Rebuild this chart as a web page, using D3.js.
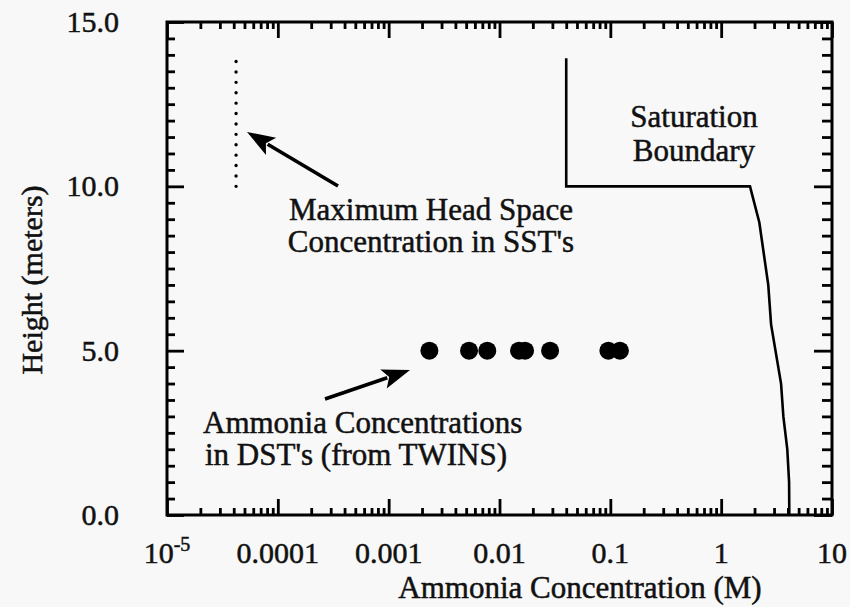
<!DOCTYPE html>
<html>
<head>
<meta charset="utf-8">
<script src="https://cdn.jsdelivr.net/npm/d3@7"></script>
<style>
  html, body { margin: 0; padding: 0; background: #f8f8f8; }
  svg { display: block; }
  text { font-family: "Liberation Serif", "Times New Roman", serif; fill: #111; stroke: #111; stroke-width: 0.5px; }
</style>
</head>
<body>
<svg id="chart" width="850" height="607"></svg>
<script>
// Ammonia concentrations measured in double-shell tanks (TWINS), all at 5 m
const dstConc = [0.00233, 0.00531, 0.00776, 0.0150, 0.0170, 0.0286, 0.096, 0.122];
const dstHeight = [5, 5, 5, 5, 5, 5, 5, 5];

// Maximum head space concentration in single-shell tanks
const headSpaceConc = [4.2e-5, 4.2e-5];
const headSpaceHeight = [10, 13.8];

// Saturation boundary
const satConc = [0.04, 0.04, 1.82, 2.21, 2.66, 2.82, 3.47, 3.64, 3.95, 4.10, 4.12];
const satHeight = [13.9, 10, 10, 8.9, 7.0, 5.8, 4.0, 3.0, 2.0, 1.0, 0];

// Axis ticks and labels
const xMajor = [1e-5, 1e-4, 1e-3, 1e-2, 1e-1, 1, 10];
const xLabels = ["10^-5", "0.0001", "0.001", "0.01", "0.1", "1", "10"];
const yMajor = [0, 5, 10, 15];
const yLabels = ["0.0", "5.0", "10.0", "15.0"];

const plot = { left: 167, right: 832, top: 22, bottom: 515 };

const svg = d3.select("#chart");
const x = d3.scaleLog().domain([1e-5, 10]).range([plot.left, plot.right]);
const y = d3.scaleLinear().domain([0, 15]).range([plot.bottom, plot.top]);

// minor ticks: 2..9 in each decade, every 0.5 m on height
const xMinor = [];
for (let e = -5; e < 1; e++) for (let k = 2; k <= 9; k++) xMinor.push(k * Math.pow(10, e));
const yMinor = d3.range(0.5, 15, 0.5).filter(v => v % 5 !== 0);

const tickStyle = g => g.call(s => s.select(".domain").remove())
  .selectAll("line").attr("stroke", "#000").attr("stroke-width", 2.8);

// inward ticks on all four sides
function ticks(axisFn, scale, pos, values, size) {
  const horiz = axisFn === d3.axisBottom || axisFn === d3.axisTop;
  svg.append("g")
    .attr("transform", horiz ? `translate(0,${pos})` : `translate(${pos},0)`)
    .call(axisFn(scale).tickValues(values).tickSize(-size).tickFormat(""))
    .call(tickStyle);
}
ticks(d3.axisBottom, x, plot.bottom, xMajor, 16);
ticks(d3.axisBottom, x, plot.bottom, xMinor, 7);
ticks(d3.axisTop, x, plot.top, xMajor, 16);
ticks(d3.axisTop, x, plot.top, xMinor, 7);
ticks(d3.axisLeft, y, plot.left, yMajor, 17);
ticks(d3.axisLeft, y, plot.left, yMinor, 8);
ticks(d3.axisRight, y, plot.right, yMajor, 18);
ticks(d3.axisRight, y, plot.right, yMinor, 10);

// frame
svg.append("rect")
  .attr("x", plot.left).attr("y", plot.top)
  .attr("width", plot.right - plot.left).attr("height", plot.bottom - plot.top)
  .attr("fill", "none").attr("stroke", "#000").attr("stroke-width", 3);

// x tick labels
const xl = svg.append("g").selectAll("text").data(xMajor).join("text")
  .attr("x", d => x(d)).attr("y", 563)
  .attr("text-anchor", "middle").attr("font-size", 30);
xl.each(function(d, i) {
  const t = d3.select(this), lab = xLabels[i];
  if (lab.includes("^")) {
    const [base, exp] = lab.split("^");
    t.append("tspan").text(base);
    t.append("tspan").attr("font-size", 20).attr("dy", -12).text(exp);
  } else t.text(lab);
});

// y tick labels
svg.append("g").selectAll("text").data(yMajor).join("text")
  .attr("x", 119).attr("y", d => y(d) + 10)
  .attr("text-anchor", "end").attr("font-size", 30)
  .text((d, i) => yLabels[i]);

// axis titles
svg.append("text")
  .attr("x", 580).attr("y", 598)
  .attr("text-anchor", "middle").attr("font-size", 31)
  .text("Ammonia Concentration (M)");
svg.append("text")
  .attr("transform", `translate(42,280) rotate(-90)`)
  .attr("text-anchor", "middle").attr("font-size", 30)
  .text("Height (meters)");

// saturation boundary
const line = d3.line().x(d => x(d[0])).y(d => y(d[1]));
svg.append("path")
  .datum(satConc.map((c, i) => [c, satHeight[i]]))
  .attr("d", line).attr("fill", "none")
  .attr("stroke", "#000").attr("stroke-width", 2.6);

// head space maximum (dotted)
svg.append("path")
  .datum(headSpaceConc.map((c, i) => [c, headSpaceHeight[i]]))
  .attr("d", line).attr("fill", "none")
  .attr("stroke", "#000").attr("stroke-width", 3.4)
  .attr("stroke-linecap", "round").attr("stroke-dasharray", "0 10.4");

// DST measurements
svg.append("g").selectAll("circle").data(dstConc).join("circle")
  .attr("cx", d => x(d)).attr("cy", (d, i) => y(dstHeight[i]))
  .attr("r", 9).attr("fill", "#000");

// annotation arrows
function arrow(x1, y1, x2, y2) {
  const ang = Math.atan2(y2 - y1, x2 - x1);
  const len = 28, half = 10;
  const bx = x2 - len * Math.cos(ang), by = y2 - len * Math.sin(ang);
  const px = -Math.sin(ang), py = Math.cos(ang);
  svg.append("line")
    .attr("x1", x1).attr("y1", y1).attr("x2", bx + 4 * Math.cos(ang)).attr("y2", by + 4 * Math.sin(ang))
    .attr("stroke", "#000").attr("stroke-width", 3.6);
  const nx = x2 - (len - 6) * Math.cos(ang), ny = y2 - (len - 6) * Math.sin(ang);
  svg.append("path")
    .attr("d", `M${x2},${y2}L${bx + half * px},${by + half * py}L${nx},${ny}L${bx - half * px},${by - half * py}Z`)
    .attr("fill", "#000");
}
arrow(338, 186, 247, 132);
arrow(325, 399, 410, 370);

const notes = [
  { x: 694, y: 127, anchor: "middle", text: "Saturation" },
  { x: 694, y: 161, anchor: "middle", text: "Boundary" },
  { x: 431, y: 220, anchor: "middle", text: "Maximum Head Space" },
  { x: 431, y: 252, anchor: "middle", text: "Concentration in SST's" },
  { x: 203, y: 433, anchor: "start", text: "Ammonia Concentrations" },
  { x: 205, y: 465, anchor: "start", text: "in DST's (from TWINS)" }
];
svg.append("g").selectAll("text").data(notes).join("text")
  .attr("x", d => d.x).attr("y", d => d.y)
  .attr("text-anchor", d => d.anchor).attr("font-size", 31)
  .text(d => d.text);
</script>
</body>
</html>
